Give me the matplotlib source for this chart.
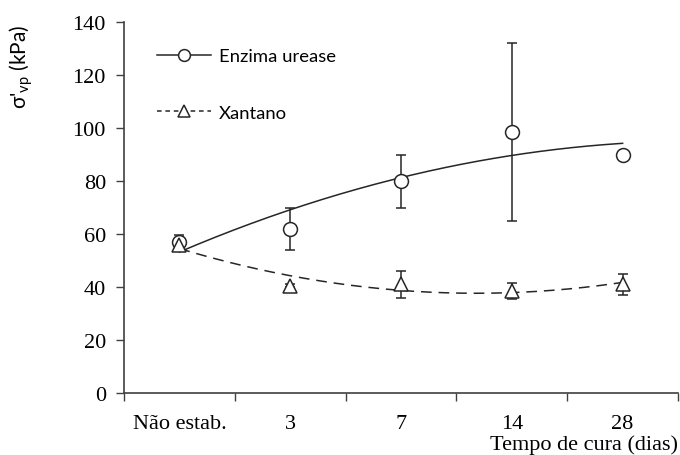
import numpy as np
import matplotlib
matplotlib.use("Agg")
import matplotlib.pyplot as plt
from matplotlib.lines import Line2D

# ---- data ----
categories = ["Não estab.", "3", "7", "14", "28"]
urease = [57, 62, 80, 98.5, 90]
urease_err = [2.5, 8, 10, 33.5, 0.5]
xantano = [56, 40.5, 41, 38.6, 41]
xantano_err = [2, 0.5, 5, 3, 4]
yticks = [0, 20, 40, 60, 80, 100, 120, 140]

DARK = "#262626"
SPINE = "#404040"
SERIF = "Liberation Serif"
SANS = "Lato"

fig = plt.figure(figsize=(6.8, 4.56), dpi=100)
ax = fig.add_axes([124/680, 1-394/456, (678-124)/680, (394-23)/456])

x = np.arange(1, len(categories) + 1)

# trend lines (2nd-order polynomial fits, as in the original)
xs = np.linspace(1, len(categories), 200)
cu = np.polyfit(x, urease, 2)
cx = np.polyfit(x, xantano, 2)
ax.plot(xs, np.polyval(cu, xs), color=DARK, lw=1.1, zorder=2)
ax.plot(xs, np.polyval(cx, xs), color=DARK, lw=1.1, dashes=(7, 4.5), zorder=2)

ax.errorbar(x, urease, yerr=urease_err, fmt='o', ms=10, mfc='white', mec=DARK,
            mew=1.1, ecolor=DARK, elinewidth=1.1, capsize=3.3, capthick=1.1, zorder=3)
ax.errorbar(x, xantano, yerr=xantano_err, fmt='^', ms=10, mfc='white', mec=DARK,
            mew=1.1, ecolor=DARK, elinewidth=1.1, capsize=3.3, capthick=1.1, zorder=3)

ax.set_xlim(0.5, len(categories) + 0.5)
ax.set_ylim(0, 140)
ax.set_yticks(yticks)
ax.set_xticks(x)
ax.set_xticklabels(categories)
ax.set_xticks(np.arange(0.5, len(categories) + 1, 1), minor=True)
ax.tick_params(axis='x', which='major', length=0, pad=15)
ax.tick_params(axis='x', which='minor', length=6, width=1, color=SPINE, direction='out')
ax.tick_params(axis='y', length=6, width=1, color=SPINE, direction='out', pad=7)
for lab in ax.get_xticklabels() + ax.get_yticklabels():
    lab.set_fontfamily(SERIF)
    lab.set_fontsize(16)
    lab.set_color('black')

for s in ['top', 'right']:
    ax.spines[s].set_visible(False)
for s in ['left', 'bottom']:
    ax.spines[s].set_color(SPINE)
    ax.spines[s].set_linewidth(1.2)

# legend
h1 = Line2D([], [], color=DARK, lw=1.1, marker='o', ms=8.5, mfc='white', mec=DARK, mew=1.1)
h2 = Line2D([], [], color=DARK, lw=1.1, dashes=(3, 2.5), marker='^', ms=8.5, mfc='white', mec=DARK, mew=1.1)
ax.legend([h1, h2], ["Enzima urease", "Xantano"], loc='upper left',
          bbox_to_anchor=(0.06, 0.93), frameon=False, borderpad=0, borderaxespad=0,
          handlelength=2.9, handletextpad=0.45, labelspacing=2.2,
          prop={'family': SANS, 'size': 13.3})

fig.text(21/680, 1-25/456, "σ'$_{\\mathregular{vp}}$ (kPa)", rotation=90, ha='center', va='top',
         family=SANS, fontsize=15)
fig.text(678/680, 1-445/456, "Tempo de cura (dias)", ha='right', va='center',
         family=SERIF, fontsize=16)

fig.savefig("out.png", dpi=100)
